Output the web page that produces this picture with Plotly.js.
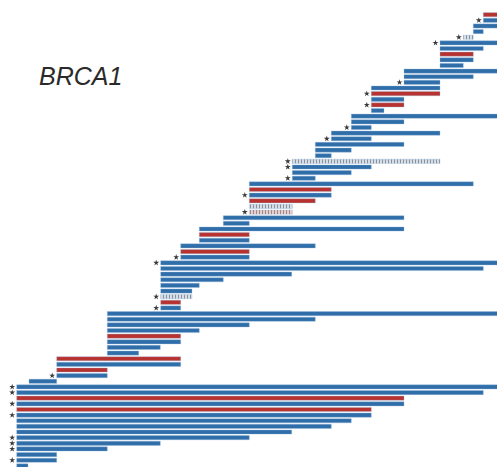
<!DOCTYPE html>
<html>
<head>
<meta charset="utf-8">
<script src="https://cdn.plot.ly/plotly-3.0.1.min.js"></script>
<style>html,body{margin:0;padding:0;background:#fff;}#chart{width:497px;height:467px;}</style>
</head>
<body>
<div id="chart"></div>
<script>
// Row order from top (1) to bottom (81)
const barStart = [483.3,483.3,473.3,473.3,463.3,440,440,440,440,440,
  404,404,404,371.3,371.3,371.3,371.3,371.3,351.3,351.3,
  351.3,331.3,331.3,315.3,315.3,315.3,292.3,292.3,292.3,292.3,
  249.3,249.3,249.3,249.3,249.3,249.3,223.3,223.3,199.3,199.3,
  199.3,180.7,180.7,180.7,160.7,160.7,160.7,160.7,160.7,160.7,
  160.7,160.7,160.7,107.3,107.3,107.3,107.3,107.3,107.3,107.3,
  107.3,56.7,56.7,56.7,56.7,29,16.7,16.7,16.7,16.7,
  16.7,16.7,16.7,16.7,16.7,16.7,16.7,16.7,16.7,16.7,16.7];
const barEnd = [500,500,500,483.3,473.3,500,483.3,473.3,473.3,463.3,
  500,473.3,440,440,440,404,404,384,500,404,
  371.3,440,371.3,404,351.3,331.3,440,371.3,351.3,315.3,
  473.3,331.3,331.3,315.3,292.3,292.3,404,249.3,404,249.3,
  249.3,315.3,249.3,249.3,500,483.3,291.7,223.3,199.3,192,
  192,180.7,180.7,500,315.3,249.3,199.3,180.7,180.7,160.3,
  138.7,180.7,180.7,107.3,107.3,56.7,500,483.3,404,404,
  371.3,371.3,351.3,331.3,291.7,249.3,160.3,107.3,56.7,56.7,28];
// B = blue, R = red, DB = dotted blue, DR = dotted red
const barType = ['R','B','B','B','DB','B','B','R','B','B',
  'B','B','B','B','R','B','R','B','B','B',
  'B','B','B','B','B','B','DB','B','B','B',
  'B','R','B','R','DB','DR','B','B','B','R',
  'B','B','R','B','B','B','B','B','B','B',
  'DB','R','B','B','B','B','B','R','B','B',
  'B','R','B','R','B','B','B','B','R','B',
  'R','B','B','B','B','B','B','B','B','B','B'];
const barStar = [0,1,0,0,1,1,0,0,0,0,
  0,0,1,0,1,0,1,0,0,0,
  1,0,1,0,0,0,1,1,0,1,
  0,0,1,0,0,1,0,0,0,0,
  0,0,0,1,1,0,0,0,0,0,
  1,0,1,0,0,0,0,0,0,0,
  0,0,0,0,1,0,1,1,0,1,
  0,1,0,0,0,1,1,1,0,1,0];
const geneLabel = 'BRCA1';

const rows = barStart.map((_, i) => i + 1);
const fillMap = {B:'#2f6ea8', R:'#b8322f', DB:'#d3deea', DR:'#eccfcf'};
const patFg = {B:'', R:'', DB:'#a9bdd4', DR:'#d9a9a9'};

const barTrace = {
  type:'bar', orientation:'h',
  y: rows,
  base: barStart,
  x: barStart.map((s, i) => barEnd[i] - s),
  width: 0.74,
  marker:{
    color: barType.map(t => fillMap[t]),
    line:{color:'rgba(150,185,220,0.6)', width:0.6},
    pattern:{
      shape: barType.map(t => t.startsWith('D') ? '|' : ''),
      fgcolor: barType.map(t => patFg[t] || '#fff'),
      size: 3, solidity: 0.35, fillmode:'overlay'
    }
  },
  hoverinfo:'skip', showlegend:false
};

const starY = [], starX = [];
barStar.forEach((s, i) => { if (s) { starY.push(rows[i]); starX.push(barStart[i] - 4.5); } });
const starTrace = {
  type:'scatter', mode:'markers', x: starX, y: starY,
  marker:{symbol:'star', size:4.5, color:'#3a3a3a'},
  hoverinfo:'skip', showlegend:false
};

const layout = {
  width:497, height:467,
  margin:{l:0, r:0, t:0, b:0},
  paper_bgcolor:'#fff', plot_bgcolor:'#fff',
  bargap:0,
  xaxis:{range:[0,497], visible:false, fixedrange:true},
  yaxis:{range:[81.2, -1.606], visible:false, fixedrange:true},
  annotations:[{
    text:'<i>' + geneLabel + '</i>', xref:'paper', yref:'paper',
    x:37/497, y:1 - 76/467, xanchor:'left', yanchor:'middle',
    showarrow:false, font:{family:'Liberation Sans, Arial, sans-serif', size:25, color:'#2a2a2a'}
  }]
};

Plotly.newPlot('chart', [barTrace, starTrace], layout, {staticPlot:true, displayModeBar:false});
</script>
</body>
</html>
